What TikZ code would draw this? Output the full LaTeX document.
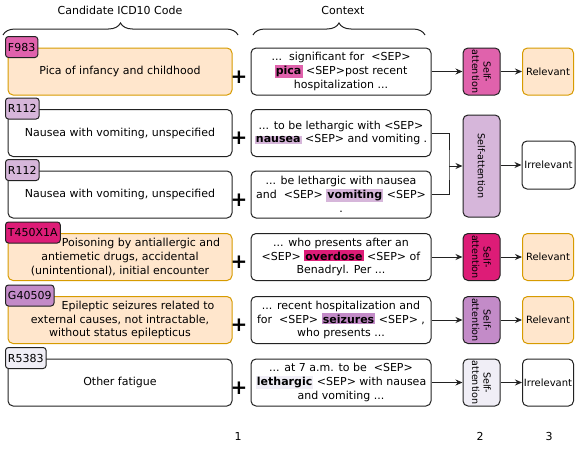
\documentclass[tikz,border=0pt]{standalone}
\usepackage{fontspec}
\setmainfont{DejaVu Sans}
\usetikzlibrary{decorations.pathreplacing,arrows.meta}
\definecolor{orfill}{HTML}{FFE6CC}
\definecolor{ordraw}{HTML}{D79B00}
\definecolor{cmag}{HTML}{E062AC}
\definecolor{clpur}{HTML}{D6B6DA}
\definecolor{cpink}{HTML}{DD1C77}
\definecolor{cpur}{HTML}{C38BC8}
\definecolor{cgrey}{HTML}{F0EEF6}
\definecolor{lnc}{HTML}{222222}
\newcommand{\fsmain}{\fontsize{11}{13.8}\selectfont}
\newcommand{\fssa}{\fontsize{9.6}{11.5}\selectfont}
\newcommand{\fsres}{\fontsize{10}{12}\selectfont}
\newcommand{\hlw}[2]{{\setlength{\fboxsep}{1.2pt}\colorbox{#1}{\textbf{#2}}}}
\tikzset{
  box/.style={draw=lnc, rounded corners=5pt, line width=1pt, minimum height=47pt, inner sep=1pt, align=center, font=\fsmain},
  mainbox/.style={box, minimum width=224pt},
  orbox/.style={fill=orfill, draw=ordraw},
  ctxbox/.style={box, fill=white, minimum width=180pt},
  codebox/.style={draw=lnc, rounded corners=3pt, line width=1pt, minimum height=21pt, inner ysep=2pt, inner xsep=2.5pt, anchor=north west, font=\fsmain},
  sabox/.style={box, minimum width=37pt},
  satext/.style={rotate=-90, align=center, font=\fssa, inner sep=0pt},
  resbox/.style={box, minimum width=51pt, font=\fsres, inner sep=0pt},
  plus/.style={font=\fontsize{20}{20}\selectfont\bfseries, inner sep=0pt},
  arr/.style={line width=1pt, draw=lnc, -{Stealth[length=7pt,width=6pt]}},
  conn/.style={line width=1pt, draw=lnc},
  bracedec/.style={line width=1pt, draw=lnc, decorate, decoration={brace, amplitude=12pt}},
  toplabel/.style={font=\fsmain, inner sep=0pt},
}
\begin{document}
\begin{tikzpicture}[x=1pt,y=-1pt]
\useasboundingbox (0,0) rectangle (582,450);

% top labels and braces
\node[toplabel] (lcand) at (120,10) {Candidate ICD10 Code};
\node[toplabel] (lctx) at (343,10) {Context};
\coordinate (b1l) at (3,35);
\coordinate (b1r) at (238,35);
\coordinate (b2l) at (253,35);
\coordinate (b2r) at (425,35);
\draw[bracedec] (b1l) -- (b1r);
\draw[bracedec] (b2l) -- (b2r);

% main boxes
\node[mainbox, orbox] (m1) at (120,71.5) {Pica of infancy and childhood};
\node[mainbox, fill=white] (m2) at (120,133) {Nausea with vomiting, unspecified};
\node[mainbox, fill=white] (m3) at (120,194.5) {Nausea with vomiting, unspecified};
\node[mainbox, orbox] (m4) at (120,257) {\hspace*{42pt}Poisoning by antiallergic and\\antiemetic drugs, accidental\\(unintentional), initial encounter};
\node[mainbox, orbox] (m5) at (120,320) {\hspace*{36pt}Epileptic seizures related to\\external causes, not intractable,\\without status epilepticus};
\node[mainbox, fill=white] (m6) at (120,382.5) {Other fatigue};

% code labels
\node[codebox, fill=cmag] (c1) at (5,36) {F983};
\node[codebox, fill=clpur] (c2) at (5,97.5) {R112};
\node[codebox, fill=clpur] (c3) at (5,159) {R112};
\node[codebox, fill=cpink] (c4) at (5,221.5) {T450X1A};
\node[codebox, fill=cpur] (c5) at (5,284.5) {G40509};
\node[codebox, fill=cgrey] (c6) at (5,347) {R5383};

% plus signs
\node[plus] (p1) at (239,77) {+};
\node[plus] (p2) at (239,138.5) {+};
\node[plus] (p3) at (239,200) {+};
\node[plus] (p4) at (239,262.5) {+};
\node[plus] (p5) at (239,325.5) {+};
\node[plus] (p6) at (239,388) {+};

% context boxes
\node[ctxbox] (x1) at (341,71.5) {...\ \ significant for\ \ <SEP>\\\hlw{cmag}{pica} <SEP>post recent\\hospitalization ...};
\node[ctxbox] (x2) at (341,133) {... to be lethargic with <SEP>\\\hlw{clpur}{nausea} <SEP> and vomiting .};
\node[ctxbox] (x3) at (341,194.5) {... be lethargic with nausea\\and\ \ <SEP> \hlw{clpur}{vomiting} <SEP>\\.};
\node[ctxbox] (x4) at (341,257) {... who presents after an\\<SEP> \hlw{cpink}{overdose} <SEP> of\\Benadryl. Per ...};
\node[ctxbox] (x5) at (341,320) {... recent hospitalization and\\for\ \ <SEP> \hlw{cpur}{seizures} <SEP> ,\\who presents ...};
\node[ctxbox] (x6) at (341,382.5) {... at 7 a.m. to be\ \ <SEP>\\\hlw{cgrey}{lethargic} <SEP> with nausea\\and vomiting ...};

% self-attention boxes
\node[sabox, fill=cmag] (s1) at (481.5,71.5) {};
\node[satext] (s1t) at (s1) {Self-\\attention};
\node[sabox, fill=clpur, minimum height=102pt] (s23) at (481.5,166) {};
\node[satext] (s23t) at (s23) {Self-attention};
\node[sabox, fill=cpink] (s4) at (481.5,257) {};
\node[satext] (s4t) at (s4) {Self-\\attention};
\node[sabox, fill=cpur] (s5) at (481.5,320) {};
\node[satext] (s5t) at (s5) {Self-\\attention};
\node[sabox, fill=cgrey] (s6) at (481.5,382.5) {};
\node[satext] (s6t) at (s6) {Self-\\attention};

% result boxes
\node[resbox, orbox] (r1) at (548,71.5) {Relevant};
\node[resbox, fill=white, minimum width=53pt, minimum height=48pt] (r23) at (548.5,165) {Irrelevant};
\node[resbox, orbox] (r4) at (548,257) {Relevant};
\node[resbox, orbox] (r5) at (548,320) {Relevant};
\node[resbox, fill=white] (r6) at (548,382.5) {Irrelevant};

% connectors
\draw[arr] (x1.east) -- (s1.west);
\draw[arr] (s1.east) -- (r1.west);
\coordinate (j) at (449,166);
\draw[conn] (x2.east) -| (j) |- (x3.east);
\draw[arr] (j) -- (s23.west);
\draw[arr] (s23.east |- r23.west) -- (r23.west);
\draw[arr] (x4.east) -- (s4.west);
\draw[arr] (s4.east) -- (r4.west);
\draw[arr] (x5.east) -- (s5.west);
\draw[arr] (s5.east) -- (r5.west);
\draw[arr] (x6.east) -- (s6.west);
\draw[arr] (s6.east) -- (r6.west);

% bottom numbers
\node[toplabel] (n1) at (238,436) {1};
\node[toplabel] (n2) at (480,436) {2};
\node[toplabel] (n3) at (549,436) {3};
\end{tikzpicture}
\end{document}
